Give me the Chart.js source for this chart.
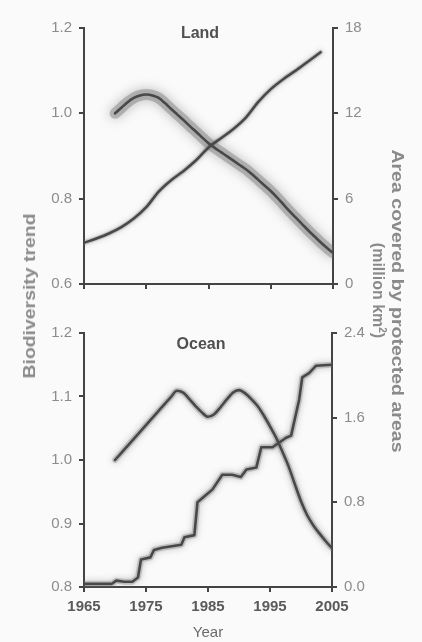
<!DOCTYPE html>
<html><head><meta charset="utf-8">
<script src="https://cdn.jsdelivr.net/npm/chart.js@4.4.1/dist/chart.umd.min.js"></script>
<style>
html,body{margin:0;padding:0;background:#fafafa;}
#wrap{position:relative;width:422px;height:642px;overflow:hidden;font-family:"Liberation Sans",Arial,sans-serif;}
canvas{position:absolute;left:0;}
.t{position:absolute;font-weight:bold;color:#505050;font-size:16px;white-space:nowrap;transform:translate(-50%,-50%);}
.r{position:absolute;font-weight:bold;color:#8a8a8a;font-size:16px;white-space:nowrap;left:0;top:0;line-height:1;}
.r sup{font-size:10px;vertical-align:6px;}
</style></head>
<body><div id="wrap">
<canvas id="c1" width="422" height="300" style="top:0"></canvas>
<canvas id="c2" width="422" height="342" style="top:300px"></canvas>
<div class="t" style="left:200px;top:33px">Land</div>
<div class="t" style="left:201px;top:344px">Ocean</div>
<div class="r" data-cx="30" data-cy="296" data-len="165" data-rot="-90">Biodiversity trend</div>
<div class="r" data-cx="397" data-cy="301" data-len="303" data-rot="90">Area covered by protected areas</div>
<div class="r" data-cx="378" data-cy="290" data-len="95" data-rot="90">(million km<sup>2</sup>)</div>
</div>
<script>
// ---------- DATA ----------
const landBioYears = [1970,1971,1972,1973,1974,1975,1976,1977,1978,1979,1980,1981,1982,1983,1984,1985,1986,1987,1988,1989,1990,1991,1992,1993,1994,1995,1996,1997,1998,1999,2000,2001,2002,2003,2004,2005];
const landBioValues = [1.0,1.013,1.026,1.036,1.042,1.044,1.042,1.036,1.024,1.01,0.997,0.984,0.97,0.957,0.943,0.93,0.919,0.909,0.899,0.889,0.879,0.869,0.857,0.844,0.831,0.818,0.803,0.787,0.771,0.756,0.741,0.726,0.712,0.698,0.685,0.673];

const landAreaYears = [1965,1967,1969,1971,1973,1975,1977,1979,1981,1983,1985,1987,1989,1991,1993,1995,1997,1999,2001,2003];
const landAreaValues = [2.9,3.2,3.55,4.0,4.6,5.4,6.5,7.3,7.95,8.7,9.6,10.25,10.9,11.7,12.8,13.7,14.4,15.0,15.65,16.3];

const oceanBioYears = [1970,1971,1972,1973,1974,1975,1976,1977,1978,1979,1980,1981,1982,1983,1984,1985,1986,1987,1988,1989,1990,1991,1992,1993,1994,1995,1996,1997,1998,1999,2000,2001,2002,2003,2004,2005];
const oceanBioValues = [1.0,1.011,1.022,1.033,1.044,1.055,1.066,1.077,1.088,1.099,1.109,1.106,1.096,1.085,1.075,1.068,1.072,1.083,1.095,1.106,1.11,1.105,1.096,1.085,1.07,1.053,1.035,1.013,0.99,0.962,0.935,0.913,0.897,0.884,0.872,0.861];

const oceanAreaYears = [1965,1969.5,1970.2,1971.5,1972.8,1973.7,1974.2,1975.7,1976.3,1977.6,1980.7,1981.2,1982.8,1983.3,1984.1,1985.7,1987.3,1988.9,1990.3,1991.2,1992.8,1993.6,1995.4,1997.6,1998.4,1999.7,2000.2,2001.3,2002.4,2005];
const oceanAreaValues = [0.03,0.03,0.06,0.05,0.05,0.09,0.26,0.28,0.35,0.37,0.40,0.47,0.49,0.80,0.84,0.92,1.06,1.06,1.04,1.11,1.13,1.32,1.32,1.41,1.43,1.77,1.98,2.02,2.09,2.10];

const xTickYears = [1965,1975,1985,1995,2005];
const landLeftTicks = [0.6,0.8,1.0,1.2];
const landRightTicks = [0,6,12,18];
const oceanLeftTicks = [0.8,0.9,1.0,1.1,1.2];
const oceanRightTicks = [0.0,0.8,1.6,2.4];

// ---------- RENDER ----------
const F = '"Liberation Sans", Arial, sans-serif';
const pts = (xs, ys) => xs.map((x, i) => ({x: x, y: ys[i]}));

const glow = {
  id: 'glow',
  beforeDatasetDraw(chart, args) {
    const ds = chart.data.datasets[args.index];
    chart.ctx.save();
    if (ds.glowBlur) { chart.ctx.shadowColor = ds.glowColor; chart.ctx.shadowBlur = ds.glowBlur; }
  },
  afterDatasetDraw(chart) { chart.ctx.restore(); }
};

function lineSets(xs, ys, axis, tension, haloW, haloBlur, haloAlpha) {
  const data = pts(xs, ys);
  return [
    {data: data, yAxisID: axis, borderColor: 'rgba(110,110,110,' + haloAlpha + ')', borderWidth: haloW,
     pointRadius: 0, tension: tension, cubicInterpolationMode: tension ? 'monotone' : 'default', order: 2,
     glowBlur: haloBlur, glowColor: 'rgba(100,100,100,1)', borderCapStyle: 'round', borderJoinStyle: 'round'},
    {data: data, yAxisID: axis, borderColor: '#484848', borderWidth: 2.6,
     pointRadius: 0, tension: tension, cubicInterpolationMode: tension ? 'monotone' : 'default', order: 0,
     borderCapStyle: 'round', borderJoinStyle: 'round'}
  ];
}

function yAxis(pos, tickList, dec, width) {
  return {
    type: 'linear', position: pos, min: tickList[0], max: tickList[tickList.length - 1],
    afterBuildTicks(s) { s.ticks = tickList.map(v => ({value: v})); },
    ticks: {color: '#8c8c8c', font: {size: 15, family: F}, padding: 7,
            callback: v => Number(v).toFixed(dec)},
    grid: {drawOnChartArea: false, drawTicks: true, tickLength: 5, color: '#444', lineWidth: 2},
    border: {display: true, color: '#444', width: 2},
    afterFit(s) { s.width = width; }
  };
}

function xAxis(showLabels, height) {
  return {
    type: 'linear', min: 1965, max: 2005,
    afterBuildTicks(s) { s.ticks = xTickYears.map(v => ({value: v})); },
    ticks: {display: true, color: '#5a5a5a', font: {size: 15, family: F, weight: 'bold'}, padding: 6,
            maxRotation: 0, autoSkip: false, callback: v => showLabels ? String(v) : ''},
    grid: {drawOnChartArea: false, drawTicks: true, tickLength: 5, color: '#444', lineWidth: 2},
    border: {display: true, color: '#444', width: 2},
    title: {display: showLabels, text: 'Year', color: '#6a6a6a', font: {size: 15, family: F}, padding: {top: 0, bottom: 0}},
    afterFit(s) { s.height = height; }
  };
}

const common = {
  responsive: false, animation: false, devicePixelRatio: 1,
  plugins: {legend: {display: false}, tooltip: {enabled: false}},
};

new Chart(document.getElementById('c1'), {
  type: 'line',
  data: {datasets: [
    ...lineSets(landBioYears, landBioValues, 'y', 0.4, 11, 12, 0.4),
    ...lineSets(landAreaYears, landAreaValues, 'y2', 0.4, 5, 5, 0.25)
  ]},
  options: Object.assign({}, common, {
    layout: {padding: {top: 28, left: 0, right: 0, bottom: 0}},
    scales: {
      x: xAxis(false, 15),
      y: yAxis('left', landLeftTicks, 1, 84),
      y2: yAxis('right', landRightTicks, 0, 89)
    }
  }),
  plugins: [glow]
});

new Chart(document.getElementById('c2'), {
  type: 'line',
  data: {datasets: [
    ...lineSets(oceanBioYears, oceanBioValues, 'y', 0.4, 6, 6, 0.3),
    ...lineSets(oceanAreaYears, oceanAreaValues, 'y2', 0, 6, 6, 0.3)
  ]},
  options: Object.assign({}, common, {
    layout: {padding: {top: 33, left: 0, right: 0, bottom: 0}},
    scales: {
      x: xAxis(true, 55),
      y: yAxis('left', oceanLeftTicks, 1, 84),
      y2: yAxis('right', oceanRightTicks, 1, 90)
    }
  }),
  plugins: [glow]
});

// rotated axis titles
document.querySelectorAll('.r').forEach(el => {
  const w = el.offsetWidth, h = el.offsetHeight;
  const cx = +el.dataset.cx, cy = +el.dataset.cy, len = +el.dataset.len, rot = +el.dataset.rot;
  el.style.left = (cx - w / 2) + 'px';
  el.style.top = (cy - h / 2) + 'px';
  el.style.transformOrigin = 'center center';
  el.style.transform = 'rotate(' + rot + 'deg) scaleX(' + (len / w).toFixed(3) + ')';
});
</script>
</body></html>
